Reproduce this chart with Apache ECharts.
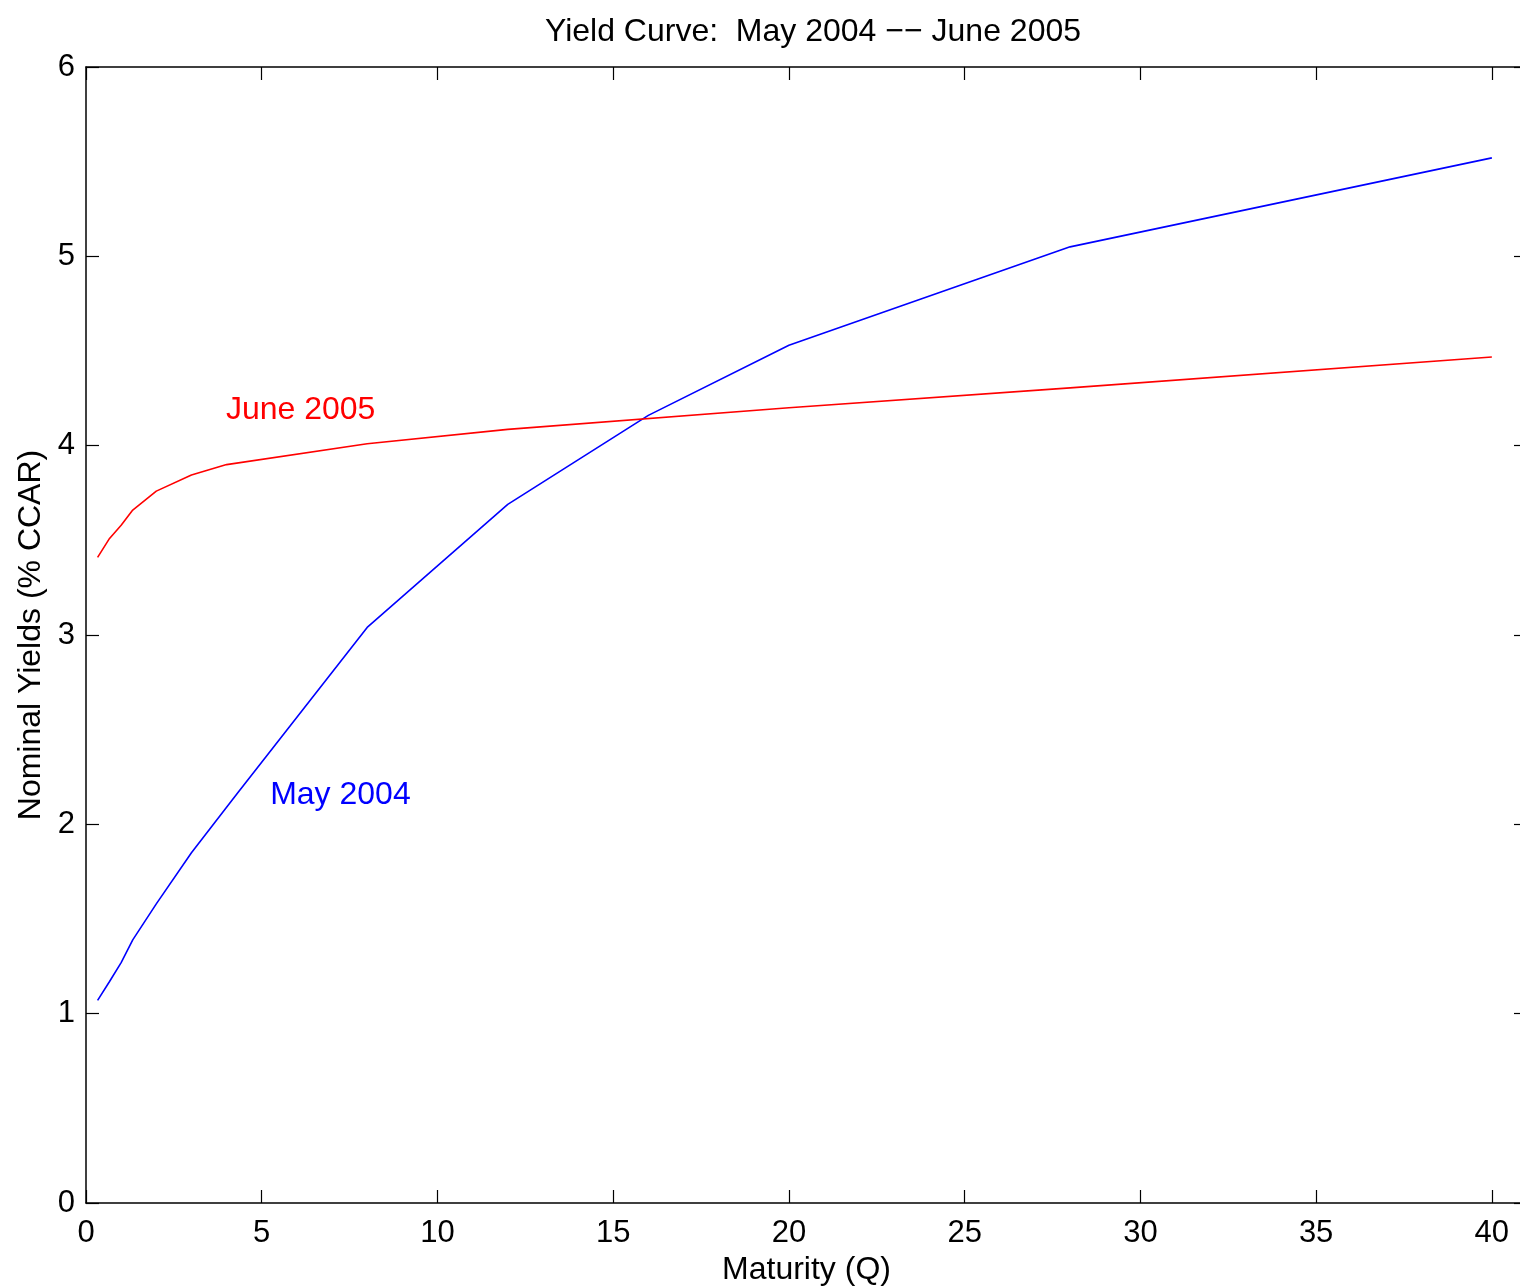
<!DOCTYPE html>
<html>
<head>
<meta charset="utf-8">
<script src="https://cdn.jsdelivr.net/npm/echarts@6/dist/echarts.min.js"></script>
<style>
  html, body { margin: 0; padding: 0; background: #fff; overflow: hidden; }
  #chart { width: 1560px; height: 1287px; }
</style>
</head>
<body>
<div id="chart"></div>
<script>
// Maturities in quarters and nominal yields (% CCAR)
const may2004Maturity = [0.33, 0.67, 1, 1.33, 2, 3, 4, 4.33, 8, 12, 16, 20, 28, 40];
const may2004Yield    = [1.07, 1.17, 1.27, 1.39, 1.58, 1.85, 2.09, 2.17, 3.04, 3.69, 4.16, 4.53, 5.05, 5.52];

const jun2005Maturity = [0.33, 0.67, 1, 1.33, 2, 3, 4, 8, 12, 20, 28, 40];
const jun2005Yield    = [3.41, 3.51, 3.58, 3.66, 3.76, 3.845, 3.90, 4.01, 4.086, 4.20, 4.305, 4.468];

const xTicks = [0, 5, 10, 15, 20, 25, 30, 35, 40];
const yTicks = [0, 1, 2, 3, 4, 5, 6];

const zip = (xs, ys) => xs.map((x, i) => [x, ys[i]]);

const font = 'Helvetica, "Liberation Sans", Arial, sans-serif';
const axisColor = '#000';

const chart = echarts.init(document.getElementById('chart'), null, { renderer: 'canvas' });

const baseX = {
  type: 'value', min: 0, max: 41, interval: 5,
  axisLine: { show: true, onZero: false, lineStyle: { color: axisColor, width: 1.5 } },
  axisTick: { show: true, inside: true, length: 13, lineStyle: { color: axisColor, width: 1.2 } },
  splitLine: { show: false }
};
const baseY = {
  type: 'value', min: 0, max: 6, interval: 1,
  axisLine: { show: true, onZero: false, lineStyle: { color: axisColor, width: 1.5 } },
  axisTick: { show: true, inside: true, length: 13, lineStyle: { color: axisColor, width: 1.2 } },
  splitLine: { show: false }
};

chart.setOption({
  animation: false,
  backgroundColor: '#fff',
  title: {
    text: 'Yield Curve:  May 2004 \u2212\u2212 June 2005',
    left: 808, top: 11, textAlign: 'center',
    textStyle: { fontFamily: font, fontSize: 32, fontWeight: 'normal', color: '#000' }
  },
  grid: {
    left: 86, right: 33, top: 67, bottom: 84,
    containLabel: false, outerBoundsMode: 'none'
  },
  xAxis: [
    Object.assign({}, baseX, {
      position: 'bottom',
      name: 'Maturity (Q)', nameLocation: 'middle', nameGap: 51,
      nameTextStyle: { fontFamily: font, fontSize: 32, color: '#000' },
      axisLabel: {
        margin: 15, fontFamily: font, fontSize: 31, color: '#000',
        formatter: v => (xTicks.indexOf(v) >= 0 ? String(v) : '')
      }
    }),
    Object.assign({}, baseX, { position: 'top', axisLabel: { show: false } })
  ],
  yAxis: [
    Object.assign({}, baseY, {
      position: 'left',
      name: 'Nominal Yields (% CCAR)', nameLocation: 'middle', nameGap: 37,
      nameTextStyle: { fontFamily: font, fontSize: 32, color: '#000' },
      axisLabel: {
        margin: 11, fontFamily: font, fontSize: 31, color: '#000',
        formatter: v => (yTicks.indexOf(v) >= 0 ? String(v) : '')
      }
    }),
    Object.assign({}, baseY, { position: 'right', axisLabel: { show: false } })
  ],
  series: [
    {
      name: 'May 2004', type: 'line', xAxisIndex: 0, yAxisIndex: 0,
      data: zip(may2004Maturity, may2004Yield),
      showSymbol: false, symbol: 'none',
      lineStyle: { color: '#0000ff', width: 1.6 },
      markPoint: {
        symbol: 'circle', symbolSize: 0, silent: true,
        label: {
          show: true, position: 'inside', align: 'left', verticalAlign: 'middle',
          formatter: 'May 2004', fontFamily: font, fontSize: 32, color: '#0000ff'
        },
        data: [{ coord: [5.24, 2.155] }]
      }
    },
    {
      name: 'June 2005', type: 'line', xAxisIndex: 0, yAxisIndex: 0,
      data: zip(jun2005Maturity, jun2005Yield),
      showSymbol: false, symbol: 'none',
      lineStyle: { color: '#ff0000', width: 1.6 },
      markPoint: {
        symbol: 'circle', symbolSize: 0, silent: true,
        label: {
          show: true, position: 'inside', align: 'left', verticalAlign: 'middle',
          formatter: 'June 2005', fontFamily: font, fontSize: 32, color: '#ff0000'
        },
        data: [{ coord: [3.98, 4.19] }]
      }
    }
  ]
});
</script>
</body>
</html>
